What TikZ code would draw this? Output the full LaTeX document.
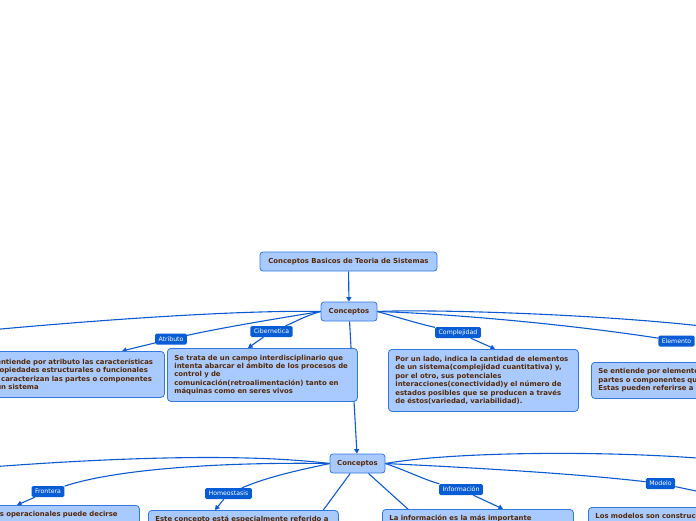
\documentclass[tikz,border=0pt]{standalone}
\usepackage{fontspec}
\usetikzlibrary{arrows.meta,backgrounds}
\newfontfamily\dvs{DejaVu Sans}
\definecolor{bfill}{RGB}{168,202,255}
\definecolor{bbord}{RGB}{50,120,225}
\definecolor{lfill}{RGB}{8,92,214}
\definecolor{lcol}{RGB}{12,90,210}
\definecolor{btext}{RGB}{85,40,5}
\begin{document}
\begin{tikzpicture}[x=1pt,y=-1pt,
 box/.style={draw=bbord,fill=bfill,rounded corners=3.5pt,line width=0.8pt,text=btext,font=\dvs\bfseries\fontsize{6.9}{8.4}\selectfont,align=left,inner xsep=7pt,inner ysep=4pt,anchor=north west},
 lowbox/.style={box,inner ysep=6pt,text depth=25pt},
 hub/.style={draw=bbord,fill=bfill,rounded corners=3pt,line width=0.8pt,text=btext,font=\dvs\bfseries\fontsize{6.9}{8.4}\selectfont,minimum height=19pt,inner sep=2pt},
 lab/.style={fill=lfill,rounded corners=1.5pt,text=white,font=\dvs\fontsize{6.2}{7}\selectfont,inner xsep=3.5pt,inner ysep=0pt,minimum height=11pt},
 con/.style={draw=lcol,line width=1.1pt},
 tip/.style={-{Triangle[length=4.5pt,width=5pt]}}
]
\useasboundingbox (0,0) rectangle (696,520);

% hubs
\node[hub,minimum width=177pt] (title) at (348.5,261.5) {Conceptos Basicos de Teoria de Sistemas};
\node[hub,minimum width=56pt] (c1) at (349,311.5) {Conceptos};
\node[hub,minimum width=55pt] (c2) at (357.5,463.5) {Conceptos};

% level 1 labels
\node[lab] (atr) at (171,339) {Atributo};
\node[lab] (cib) at (271.5,331.5) {Cibernetica};
\node[lab] (comp) at (458,332.5) {Complejidad};
\node[lab] (elem) at (676.5,341) {Elemento};

% level 1 boxes
\node[box,text width=173pt,minimum height=46pt] (atrbox) at (-23,351) {Se entiende por atributo las características\\y propiedades estructurales o funcionales\\que caracterizan las partes o componentes\\de un sistema};
\node[box,text width=176pt,minimum height=53pt] (cibbox) at (167,348) {Se trata de un campo interdisciplinario que\\intenta abarcar el ámbito de los procesos de\\control y de\\comunicación(retroalimentación) tanto en\\máquinas como en seres vivos};
\node[box,text width=176pt,minimum height=62pt] (compbox) at (388,349) {Por un lado, indica la cantidad de elementos\\de un sistema(complejidad cuantitativa) y,\\por el otro, sus potenciales\\interacciones(conectividad)y el número de\\estados posibles que se producen a través\\de éstos(variedad, variabilidad).};
\node[box,text width=186pt,minimum height=36pt] (elembox) at (591,362) {Se entiende por elemento\\partes o componentes que\\Estas pueden referirse a};

% level 2 labels
\node[lab] (front) at (48,491.5) {Frontera};
\node[lab] (homeo) at (228.5,493.5) {Homeostasis};
\node[lab] (info) at (461,489.5) {Información};
\node[lab] (model) at (660.5,483.5) {Modelo};

% level 2 boxes
\node[lowbox,text width=175pt] (frontbox) at (-50,505) {En términos operacionales puede decirse};
\node[lowbox,text width=176pt] (homeobox) at (148,510) {Este concepto está especialmente referido a};
\node[lowbox,text width=177pt] (infobox) at (382,509) {La información es la más importante};
\node[lowbox,text width=186pt] (modelbox) at (588,507) {Los modelos son construcciones};

% free ends
\coordinate (fl1) at (-10,330);
\coordinate (fr1) at (710,327);
\coordinate (atrin) at (122,351);
\coordinate (cibin) at (248,348);
\coordinate (compin) at (495,349);
\coordinate (fl2) at (-10,467);
\coordinate (fr2) at (710,459);
\coordinate (frontin) at (17,505);
\coordinate (homeoin) at (215,510);
\coordinate (infoin) at (503,509);
\coordinate (mr) at (720,496);
\coordinate (u1) at (316,520);
\coordinate (u2) at (420,520);

\begin{scope}[on background layer]
\draw[con,tip] (title) -- (c1);
\draw[con,tip] (c1) -- (c2);
% level 1
\draw[con] (c1.west) .. controls (250,310) and (120,318) .. (fl1);
\draw[con] (c1.west) .. controls (280,318) and (220,328) .. (atr);
\draw[con,tip] (atr) -- (atrin);
\draw[con] (c1.west) .. controls (305,316) and (295,322) .. (cib);
\draw[con,tip] (cib) -- (cibin);
\draw[con] (c1.east) .. controls (400,318) and (420,324) .. (comp);
\draw[con,tip] (comp) -- (compin);
\draw[con] (c1.east) .. controls (460,314) and (580,326) .. (elem);
\draw[con] (c1.east) .. controls (430,309) and (600,314) .. (fr1);
% level 2
\draw[con] (c2.west) .. controls (260,455) and (150,455) .. (fl2);
\draw[con] (c2.west) .. controls (230,462) and (120,468) .. (front);
\draw[con,tip] (front) -- (frontin);
\draw[con] (c2.west) .. controls (300,470) and (270,476) .. (homeo);
\draw[con,tip] (homeo) -- (homeoin);
\draw[con] (c2) -- (u1);
\draw[con] (c2) -- (u2);
\draw[con] (c2.east) .. controls (410,472) and (425,480) .. (info);
\draw[con,tip] (info) -- (infoin);
\draw[con] (c2.east) .. controls (480,468) and (580,474) .. (model);
\draw[con] (model) -- (mr);
\draw[con] (c2.east) .. controls (450,452) and (600,450) .. (fr2);
\end{scope}
\end{tikzpicture}
\end{document}
